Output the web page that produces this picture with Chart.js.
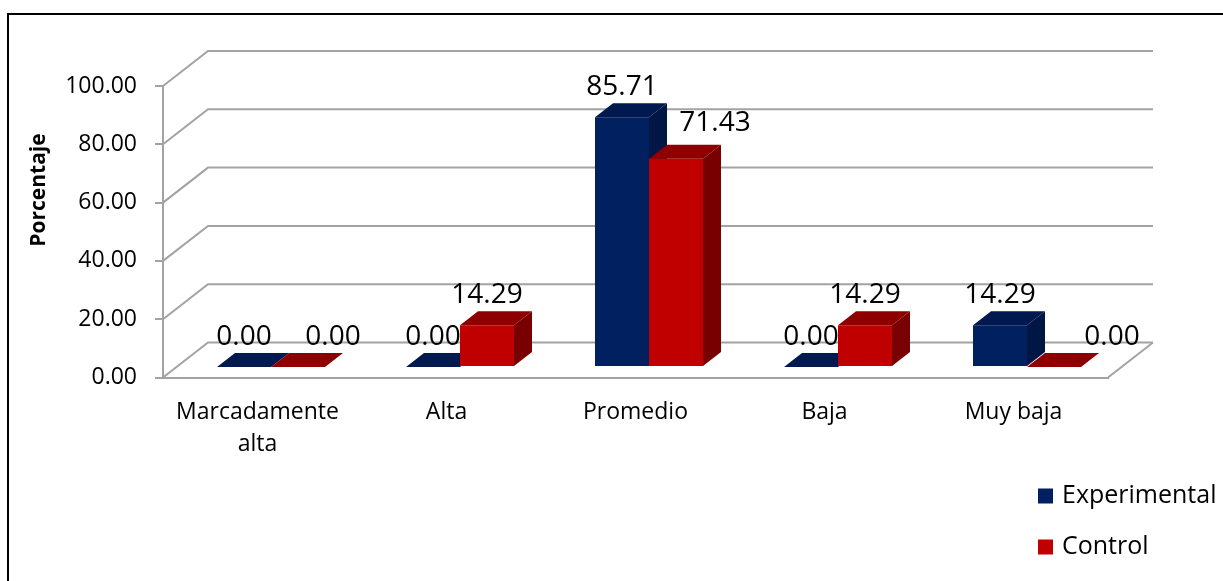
<!DOCTYPE html>
<html>
<head>
<meta charset="utf-8">
<script src="https://cdn.jsdelivr.net/npm/chart.js@4/dist/chart.umd.min.js"></script>
<style>
  html, body { margin: 0; padding: 0; background: #ffffff; }
  #wrap { position: relative; width: 1223px; height: 581px; }
</style>
</head>
<body>
<div id="wrap"><canvas id="chart" width="1223" height="581"></canvas></div>
<script>
// Categories and series values (percent)
const categories = [['Marcadamente', 'alta'], 'Alta', 'Promedio', 'Baja', 'Muy baja'];
const experimental = [0.00, 0.00, 85.71, 0.00, 14.29];
const control = [0.00, 14.29, 71.43, 14.29, 0.00];
const seriesNames = ['Experimental', 'Control'];
const yTickValues = [0, 20, 40, 60, 80, 100];
const axisTitle = 'Porcentaje';

const FONT = "'Open Sans', 'Liberation Sans', sans-serif";
const GRID = '#a3a3a3';

// Pseudo-3D look: box depth, bar position inside the box and bar depth
const WALL = { dx: 45, dy: -35 };
const BAR_SHIFT = { dx: 13.5, dy: -10.5 };
const BAR_DEPTH = { dx: 18, dy: -14 };

const faceColors = [
  { front: '#002060', top: '#001a4f', side: '#001645' },
  { front: '#c00000', top: '#8e0000', side: '#780000' }
];

const box3d = {
  id: 'box3d',
  beforeDatasetsDraw(chart) {
    const { ctx, chartArea: a, scales: { y } } = chart;
    ctx.save();
    ctx.strokeStyle = GRID;
    ctx.lineWidth = 2;
    ctx.lineCap = 'butt';
    // side wall diagonals and back wall grid lines
    yTickValues.forEach(v => {
      const py = y.getPixelForValue(v);
      ctx.beginPath();
      ctx.moveTo(a.left, py);
      ctx.lineTo(a.left + WALL.dx, py + WALL.dy);
      ctx.lineTo(a.right + WALL.dx, py + WALL.dy);
      ctx.stroke();
    });
    // floor right edge
    ctx.beginPath();
    ctx.moveTo(a.right, a.bottom);
    ctx.lineTo(a.right + WALL.dx, a.bottom + WALL.dy);
    ctx.stroke();
    ctx.restore();

    // bars sit partway into the box; shift everything drawn for them
    ctx.save();
    ctx.translate(BAR_SHIFT.dx, BAR_SHIFT.dy);
    const n = chart.data.labels.length;
    for (let i = 0; i < n; i++) {
      chart.data.datasets.forEach((ds, d) => {
        const el = chart.getDatasetMeta(d).data[i];
        const x1 = el.x - el.width / 2, x2 = el.x + el.width / 2;
        const top = Math.min(el.y, el.base), base = Math.max(el.y, el.base);
        const c = faceColors[d];
        // top face
        ctx.fillStyle = c.top;
        ctx.beginPath();
        ctx.moveTo(x1, top);
        ctx.lineTo(x2, top);
        ctx.lineTo(x2 + BAR_DEPTH.dx, top + BAR_DEPTH.dy);
        ctx.lineTo(x1 + BAR_DEPTH.dx, top + BAR_DEPTH.dy);
        ctx.closePath();
        ctx.fill();
        // right side face
        if (base - top > 0.5) {
          ctx.fillStyle = c.side;
          ctx.beginPath();
          ctx.moveTo(x2, top);
          ctx.lineTo(x2 + BAR_DEPTH.dx, top + BAR_DEPTH.dy);
          ctx.lineTo(x2 + BAR_DEPTH.dx, base + BAR_DEPTH.dy);
          ctx.lineTo(x2, base);
          ctx.closePath();
          ctx.fill();
        }
      });
    }
  },
  afterDatasetsDraw(chart, args, opts) {
    const { ctx } = chart;
    // value labels above each bar
    ctx.fillStyle = '#000';
    ctx.font = '28px ' + FONT;
    ctx.textAlign = 'center';
    ctx.textBaseline = 'middle';
    chart.data.datasets.forEach((ds, d) => {
      chart.getDatasetMeta(d).data.forEach((el, i) => {
        const shift = (opts.labelShift[d] && opts.labelShift[d][i]) || [0, 0];
        const v = ds.data[i];
        ctx.fillText(v.toFixed(2), el.x + shift[0], el.y - 30 + shift[1]);
      });
    });
    ctx.restore();
  },
  afterDraw(chart) {
    const { ctx } = chart;
    ctx.save();
    // axis title
    ctx.translate(39, 190);
    ctx.rotate(-Math.PI / 2);
    ctx.fillStyle = '#000';
    ctx.font = 'bold 21px ' + FONT;
    ctx.textAlign = 'center';
    ctx.textBaseline = 'middle';
    ctx.fillText(axisTitle, 0, 0);
    ctx.restore();

    // legend
    ctx.save();
    ctx.font = '25px ' + FONT;
    ctx.textAlign = 'left';
    ctx.textBaseline = 'middle';
    const rows = [496, 547];
    chart.data.datasets.forEach((ds, d) => {
      const cy = rows[d];
      ctx.fillStyle = ds.backgroundColor;
      ctx.fillRect(1038, cy - 7.5, 15, 15);
      ctx.fillStyle = '#000';
      ctx.fillText(ds.label, 1062, cy);
    });
    ctx.restore();

    // outer frame
    ctx.save();
    ctx.strokeStyle = '#000';
    ctx.lineWidth = 2;
    ctx.strokeRect(8, 14, 1400, 800);
    ctx.restore();
  }
};

Chart.defaults.font.family = FONT;
Chart.defaults.color = '#000';

new Chart(document.getElementById('chart'), {
  type: 'bar',
  data: {
    labels: categories,
    datasets: [
      { label: seriesNames[0], data: experimental, backgroundColor: faceColors[0].front, clip: false },
      { label: seriesNames[1], data: control, backgroundColor: faceColors[1].front, clip: false }
    ]
  },
  options: {
    responsive: false,
    animation: false,
    events: [],
    layout: { padding: { left: 0, top: 86, right: 115, bottom: 0 } },
    categoryPercentage: 0.5714,
    barPercentage: 1.0,
    plugins: {
      legend: { display: false },
      tooltip: { enabled: false },
      box3d: {
        labelShift: [
          [],
          [[35, 0], [0, 0], [39, -6], [0, 0], [58, 0]]
        ]
      }
    },
    scales: {
      x: {
        grid: { display: false, drawTicks: false },
        border: { display: true, color: GRID, width: 2 },
        ticks: { font: { size: 23, lineHeight: 1.4 }, padding: 19, color: '#000', maxRotation: 0, autoSkip: false },
        afterFit(scale) { scale.height = 203.5; }
      },
      y: {
        min: 0,
        max: 100,
        afterBuildTicks(scale) { scale.ticks = yTickValues.map(v => ({ value: v })); },
        grid: { drawOnChartArea: false, drawTicks: true, tickLength: 8, color: GRID, lineWidth: 2 },
        border: { display: true, color: GRID, width: 2 },
        ticks: { font: { size: 23 }, padding: 18, color: '#000', callback: v => Number(v).toFixed(2) },
        afterFit(scale) { scale.width = 163; }
      }
    }
  },
  plugins: [box3d]
});
</script>
</body>
</html>
